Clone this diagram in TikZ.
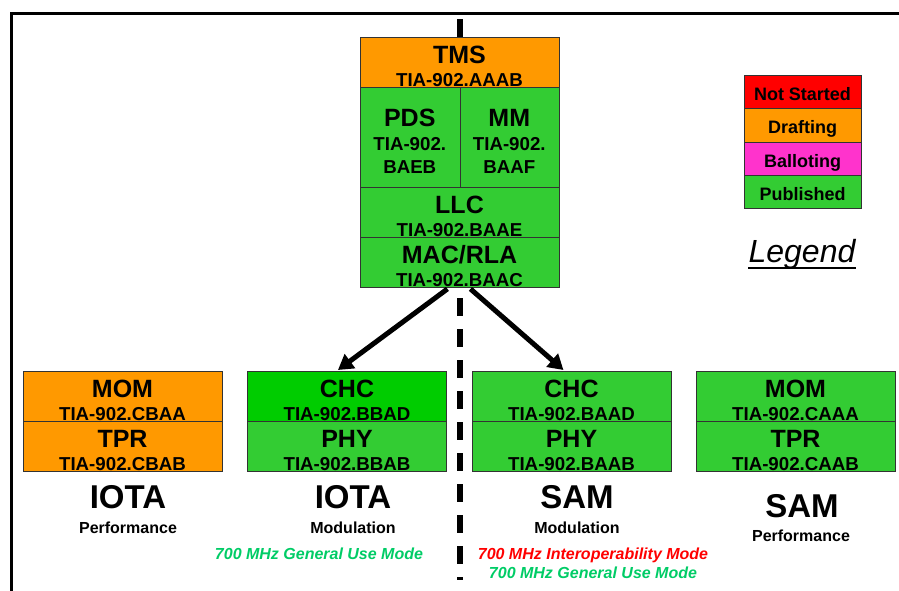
\documentclass[tikz,border=0pt]{standalone}
\usepackage{fontspec}
\setmainfont{Liberation Sans}
\usetikzlibrary{arrows.meta,calc}
\definecolor{cOrange}{HTML}{FF9900}
\definecolor{cGreen}{HTML}{33CC33}
\definecolor{cBright}{HTML}{00CC00}
\definecolor{cRed}{HTML}{FF0000}
\definecolor{cMagenta}{HTML}{FF33CC}
\definecolor{cTextGreen}{HTML}{00CC66}
\begin{document}
\begin{tikzpicture}[x=1pt,y=-1pt,
  box/.style={draw=black!80,line width=0.9pt,inner sep=0pt,anchor=north west},
  wbox/.style={box,minimum width=199pt,minimum height=50pt},
  bbox/.style={box,minimum width=199pt,minimum height=50pt},
  hbox/.style={box,minimum width=99.5pt,minimum height=100pt},
  lbox/.style={box,minimum width=117pt,minimum height=33.3pt},
  ttl/.style={anchor=base,inner sep=0pt,font=\fontsize{25}{25}\selectfont\bfseries},
  code/.style={anchor=base,inner sep=0pt,font=\fontsize{18.7}{19}\selectfont\bfseries},
  big/.style={anchor=base,inner sep=0pt,font=\fontsize{33}{33}\selectfont\bfseries},
  sub/.style={anchor=base,inner sep=0pt,font=\fontsize{16}{16}\selectfont\bfseries},
  mode/.style={anchor=base,inner sep=0pt,font=\fontsize{16}{16}\selectfont\bfseries\itshape},
  leg/.style={anchor=base,inner sep=0pt,font=\fontsize{18}{18}\selectfont\bfseries},
  frame/.style={line width=3pt,line cap=rect},
  divider/.style={line width=5.5pt,dash pattern=on 18pt off 13pt},
  bigarrow/.style={line width=5pt,-{Triangle[length=15pt,width=17pt]}}
]
\useasboundingbox (0,0) rectangle (899,590);

% frame
\coordinate (fTL) at (11,13);
\coordinate (fTR) at (899,13);
\coordinate (fBL) at (11,590);
\draw[frame] (fTR) -- (fTL) -- (fBL);

% dashed divider
\coordinate (dTop) at (460,19);
\coordinate (dBot) at (460,580);
\draw[divider] (dTop) -- (dBot);

% top stack
\node[wbox,fill=cOrange] (tms) at (360,37) {};
\node[ttl] (tmsT) at (459.5,63) {TMS};
\node[code] (tmsC) at (459.5,86) {TIA-902.AAAB};

\node[hbox,fill=cGreen] (pds) at (360,87) {};
\node[ttl] (pdsT) at (409.75,126) {PDS};
\node[code] (pdsC1) at (409.75,150) {TIA-902.};
\node[code] (pdsC2) at (409.75,173) {BAEB};

\node[hbox,fill=cGreen] (mm) at (459.5,87) {};
\node[ttl] (mmT) at (509.25,126) {MM};
\node[code] (mmC1) at (509.25,150) {TIA-902.};
\node[code] (mmC2) at (509.25,173) {BAAF};

\node[wbox,fill=cGreen] (llc) at (360,187) {};
\node[ttl] (llcT) at (459.5,213) {LLC};
\node[code] (llcC) at (459.5,236) {TIA-902.BAAE};

\node[wbox,fill=cGreen] (mac) at (360,237) {};
\node[ttl] (macT) at (459.5,263) {MAC/RLA};
\node[code] (macC) at (459.5,286) {TIA-902.BAAC};

% bottom group 1: IOTA performance
\node[bbox,fill=cOrange] (momI) at (23,371) {};
\node[ttl] (momIT) at (122.5,397) {MOM};
\node[code] (momIC) at (122.5,420) {TIA-902.CBAA};
\node[bbox,fill=cOrange] (tprI) at (23,421) {};
\node[ttl] (tprIT) at (122.5,447) {TPR};
\node[code] (tprIC) at (122.5,470) {TIA-902.CBAB};
\node[big] (iotaP) at (128,508) {IOTA};
\node[sub] (iotaPs) at (128,533) {Performance};

% bottom group 2: IOTA modulation
\node[bbox,fill=cBright] (chcI) at (247,371) {};
\node[ttl] (chcIT) at (347,397) {CHC};
\node[code] (chcIC) at (347,420) {TIA-902.BBAD};
\node[bbox,fill=cGreen] (phyI) at (247,421) {};
\node[ttl] (phyIT) at (347,447) {PHY};
\node[code] (phyIC) at (347,470) {TIA-902.BBAB};
\node[big] (iotaM) at (353,508) {IOTA};
\node[sub] (iotaMs) at (353,533) {Modulation};
\node[mode,text=cTextGreen] (iotaMode) at (319,559) {700 MHz General Use Mode};

% bottom group 3: SAM modulation
\node[bbox,fill=cGreen] (chcS) at (472,371) {};
\node[ttl] (chcST) at (571.5,397) {CHC};
\node[code] (chcSC) at (571.5,420) {TIA-902.BAAD};
\node[bbox,fill=cGreen] (phyS) at (472,421) {};
\node[ttl] (phyST) at (571.5,447) {PHY};
\node[code] (phySC) at (571.5,470) {TIA-902.BAAB};
\node[big] (samM) at (577,508) {SAM};
\node[sub] (samMs) at (577,533) {Modulation};
\node[mode,text=cRed] (samMode1) at (593,559) {700 MHz Interoperability Mode};
\node[mode,text=cTextGreen] (samMode2) at (593,578) {700 MHz General Use Mode};

% bottom group 4: SAM performance
\node[bbox,fill=cGreen] (momS) at (696,371) {};
\node[ttl] (momST) at (795.5,397) {MOM};
\node[code] (momSC) at (795.5,420) {TIA-902.CAAA};
\node[bbox,fill=cGreen] (tprS) at (696,421) {};
\node[ttl] (tprST) at (795.5,447) {TPR};
\node[code] (tprSC) at (795.5,470) {TIA-902.CAAB};
\node[big] (samP) at (802,517) {SAM};
\node[sub] (samPs) at (801,541) {Performance};

% arrows
\coordinate (aL) at ($(mac.south)+(-12.5,1)$);
\coordinate (aR) at ($(mac.south)+(10.5,1)$);
\draw[bigarrow] (aL) -- ($(chcI.north)+(-9,-1)$);
\draw[bigarrow] (aR) -- ($(chcS.north)+(-8.5,-1)$);

% legend
\node[lbox,fill=cRed] (lNS) at (744,75) {};
\node[leg] (lNST) at (802.5,100) {Not Started};
\node[lbox,fill=cOrange] (lDr) at (744,108.3) {};
\node[leg] (lDrT) at (802.5,133.5) {Drafting};
\node[lbox,fill=cMagenta] (lBa) at (744,141.6) {};
\node[leg] (lBaT) at (802.5,167) {Balloting};
\node[lbox,fill=cGreen] (lPu) at (744,174.9) {};
\node[leg] (lPuT) at (802.5,200) {Published};

\node[anchor=base,inner sep=0pt,font=\fontsize{32}{32}\selectfont\itshape] (lg) at (802,262) {Legend};
\draw[line width=2.8pt] ($(lg.base west)+(0,6)$) -- ($(lg.base east)+(0,6)$);
\end{tikzpicture}
\end{document}
